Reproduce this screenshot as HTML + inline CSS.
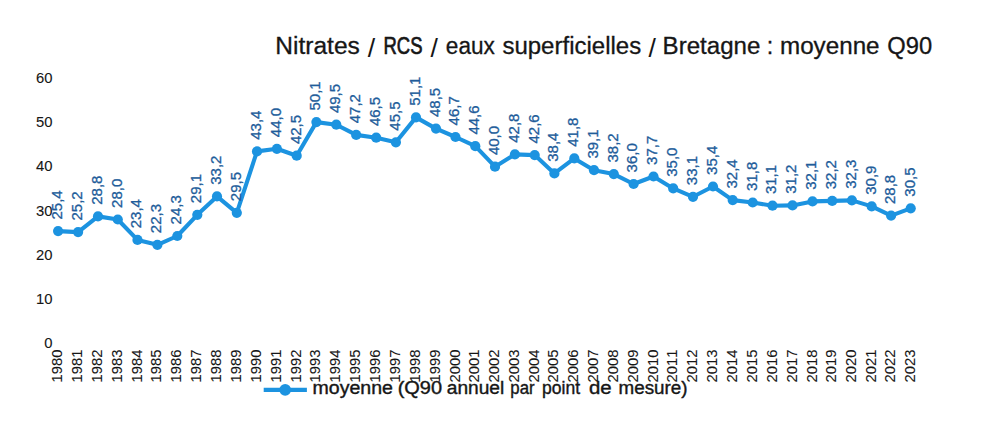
<!DOCTYPE html>
<html><head><meta charset="utf-8"><title>Nitrates / RCS / eaux superficielles / Bretagne</title>
<style>
html,body{margin:0;padding:0;background:#fff;}
body{width:1006px;height:435px;overflow:hidden;}
svg{display:block;font-family:'Liberation Sans', sans-serif;font-kerning:none;}
</style></head><body>
<svg width="1006" height="435" viewBox="0 0 1006 435">
<rect width="1006" height="435" fill="#fff"/>
<text x="275.29" y="53.8" font-size="23.3" textLength="84.60" lengthAdjust="spacingAndGlyphs" fill="#161616" stroke="#161616" stroke-width="0.3">Nitrates</text>
<text x="371.55" y="57.0" font-size="26.6" text-anchor="middle" fill="#161616">/</text>
<text x="383.49" y="53.8" font-size="23.3" textLength="38.96" lengthAdjust="spacingAndGlyphs" fill="#161616" stroke="#161616" stroke-width="0.7">RCS</text>
<text x="434.15" y="57.0" font-size="26.6" text-anchor="middle" fill="#161616">/</text>
<text x="445.84" y="53.8" font-size="23.3" textLength="49.00" lengthAdjust="spacingAndGlyphs" fill="#161616" stroke="#161616" stroke-width="0.3">eaux</text>
<text x="502.43" y="53.8" font-size="23.3" textLength="138.74" lengthAdjust="spacingAndGlyphs" fill="#161616" stroke="#161616" stroke-width="0.3">superficielles</text>
<text x="652.15" y="57.0" font-size="26.6" text-anchor="middle" fill="#161616">/</text>
<text x="662.62" y="53.8" font-size="23.3" textLength="97.75" lengthAdjust="spacingAndGlyphs" fill="#161616" stroke="#161616" stroke-width="0.3">Bretagne</text>
<text x="770.10" y="53.8" font-size="23.3" text-anchor="middle" fill="#161616" stroke="#161616" stroke-width="0.3">:</text>
<text x="779.99" y="53.8" font-size="23.3" textLength="99.58" lengthAdjust="spacingAndGlyphs" fill="#161616" stroke="#161616" stroke-width="0.3">moyenne</text>
<text x="887.38" y="53.8" font-size="23.3" textLength="44.85" lengthAdjust="spacingAndGlyphs" fill="#161616" stroke="#161616" stroke-width="0.3">Q90</text>
<text x="52.5" y="348.1" font-size="14.8" fill="#161616" stroke="#161616" stroke-width="0.1" text-anchor="end">0</text>
<text x="52.5" y="303.9" font-size="14.8" fill="#161616" stroke="#161616" stroke-width="0.1" text-anchor="end">10</text>
<text x="52.5" y="259.7" font-size="14.8" fill="#161616" stroke="#161616" stroke-width="0.1" text-anchor="end">20</text>
<text x="52.5" y="215.5" font-size="14.8" fill="#161616" stroke="#161616" stroke-width="0.1" text-anchor="end">30</text>
<text x="52.5" y="171.4" font-size="14.8" fill="#161616" stroke="#161616" stroke-width="0.1" text-anchor="end">40</text>
<text x="52.5" y="127.2" font-size="14.8" fill="#161616" stroke="#161616" stroke-width="0.1" text-anchor="end">50</text>
<text x="52.5" y="83.0" font-size="14.8" fill="#161616" stroke="#161616" stroke-width="0.1" text-anchor="end">60</text>
<text transform="translate(62.1,349.6) rotate(-90)" font-size="14.8" fill="#161616" stroke="#161616" stroke-width="0.1" text-anchor="end">1980</text>
<text transform="translate(82.1,349.6) rotate(-90)" font-size="14.8" fill="#161616" stroke="#161616" stroke-width="0.1" text-anchor="end">1981</text>
<text transform="translate(102.0,349.6) rotate(-90)" font-size="14.8" fill="#161616" stroke="#161616" stroke-width="0.1" text-anchor="end">1982</text>
<text transform="translate(121.8,349.6) rotate(-90)" font-size="14.8" fill="#161616" stroke="#161616" stroke-width="0.1" text-anchor="end">1983</text>
<text transform="translate(141.5,349.6) rotate(-90)" font-size="14.8" fill="#161616" stroke="#161616" stroke-width="0.1" text-anchor="end">1984</text>
<text transform="translate(161.4,349.6) rotate(-90)" font-size="14.8" fill="#161616" stroke="#161616" stroke-width="0.1" text-anchor="end">1985</text>
<text transform="translate(181.3,349.6) rotate(-90)" font-size="14.8" fill="#161616" stroke="#161616" stroke-width="0.1" text-anchor="end">1986</text>
<text transform="translate(201.3,349.6) rotate(-90)" font-size="14.8" fill="#161616" stroke="#161616" stroke-width="0.1" text-anchor="end">1987</text>
<text transform="translate(221.0,349.6) rotate(-90)" font-size="14.8" fill="#161616" stroke="#161616" stroke-width="0.1" text-anchor="end">1988</text>
<text transform="translate(240.8,349.6) rotate(-90)" font-size="14.8" fill="#161616" stroke="#161616" stroke-width="0.1" text-anchor="end">1989</text>
<text transform="translate(261.0,349.6) rotate(-90)" font-size="14.8" fill="#161616" stroke="#161616" stroke-width="0.1" text-anchor="end">1990</text>
<text transform="translate(280.9,349.6) rotate(-90)" font-size="14.8" fill="#161616" stroke="#161616" stroke-width="0.1" text-anchor="end">1991</text>
<text transform="translate(300.7,349.6) rotate(-90)" font-size="14.8" fill="#161616" stroke="#161616" stroke-width="0.1" text-anchor="end">1992</text>
<text transform="translate(320.4,349.6) rotate(-90)" font-size="14.8" fill="#161616" stroke="#161616" stroke-width="0.1" text-anchor="end">1993</text>
<text transform="translate(340.3,349.6) rotate(-90)" font-size="14.8" fill="#161616" stroke="#161616" stroke-width="0.1" text-anchor="end">1994</text>
<text transform="translate(360.2,349.6) rotate(-90)" font-size="14.8" fill="#161616" stroke="#161616" stroke-width="0.1" text-anchor="end">1995</text>
<text transform="translate(380.2,349.6) rotate(-90)" font-size="14.8" fill="#161616" stroke="#161616" stroke-width="0.1" text-anchor="end">1996</text>
<text transform="translate(399.9,349.6) rotate(-90)" font-size="14.8" fill="#161616" stroke="#161616" stroke-width="0.1" text-anchor="end">1997</text>
<text transform="translate(420.0,349.6) rotate(-90)" font-size="14.8" fill="#161616" stroke="#161616" stroke-width="0.1" text-anchor="end">1998</text>
<text transform="translate(440.0,349.6) rotate(-90)" font-size="14.8" fill="#161616" stroke="#161616" stroke-width="0.1" text-anchor="end">1999</text>
<text transform="translate(459.5,349.6) rotate(-90)" font-size="14.8" fill="#161616" stroke="#161616" stroke-width="0.1" text-anchor="end">2000</text>
<text transform="translate(479.3,349.6) rotate(-90)" font-size="14.8" fill="#161616" stroke="#161616" stroke-width="0.1" text-anchor="end">2001</text>
<text transform="translate(499.0,349.6) rotate(-90)" font-size="14.8" fill="#161616" stroke="#161616" stroke-width="0.1" text-anchor="end">2002</text>
<text transform="translate(518.9,349.6) rotate(-90)" font-size="14.8" fill="#161616" stroke="#161616" stroke-width="0.1" text-anchor="end">2003</text>
<text transform="translate(538.7,349.6) rotate(-90)" font-size="14.8" fill="#161616" stroke="#161616" stroke-width="0.1" text-anchor="end">2004</text>
<text transform="translate(558.4,349.6) rotate(-90)" font-size="14.8" fill="#161616" stroke="#161616" stroke-width="0.1" text-anchor="end">2005</text>
<text transform="translate(578.3,349.6) rotate(-90)" font-size="14.8" fill="#161616" stroke="#161616" stroke-width="0.1" text-anchor="end">2006</text>
<text transform="translate(598.0,349.6) rotate(-90)" font-size="14.8" fill="#161616" stroke="#161616" stroke-width="0.1" text-anchor="end">2007</text>
<text transform="translate(617.8,349.6) rotate(-90)" font-size="14.8" fill="#161616" stroke="#161616" stroke-width="0.1" text-anchor="end">2008</text>
<text transform="translate(637.6,349.6) rotate(-90)" font-size="14.8" fill="#161616" stroke="#161616" stroke-width="0.1" text-anchor="end">2009</text>
<text transform="translate(657.5,349.6) rotate(-90)" font-size="14.8" fill="#161616" stroke="#161616" stroke-width="0.1" text-anchor="end">2010</text>
<text transform="translate(677.2,349.6) rotate(-90)" font-size="14.8" fill="#161616" stroke="#161616" stroke-width="0.1" text-anchor="end">2011</text>
<text transform="translate(697.0,349.6) rotate(-90)" font-size="14.8" fill="#161616" stroke="#161616" stroke-width="0.1" text-anchor="end">2012</text>
<text transform="translate(717.0,349.6) rotate(-90)" font-size="14.8" fill="#161616" stroke="#161616" stroke-width="0.1" text-anchor="end">2013</text>
<text transform="translate(736.7,349.6) rotate(-90)" font-size="14.8" fill="#161616" stroke="#161616" stroke-width="0.1" text-anchor="end">2014</text>
<text transform="translate(756.7,349.6) rotate(-90)" font-size="14.8" fill="#161616" stroke="#161616" stroke-width="0.1" text-anchor="end">2015</text>
<text transform="translate(776.5,349.6) rotate(-90)" font-size="14.8" fill="#161616" stroke="#161616" stroke-width="0.1" text-anchor="end">2016</text>
<text transform="translate(796.5,349.6) rotate(-90)" font-size="14.8" fill="#161616" stroke="#161616" stroke-width="0.1" text-anchor="end">2017</text>
<text transform="translate(816.5,349.6) rotate(-90)" font-size="14.8" fill="#161616" stroke="#161616" stroke-width="0.1" text-anchor="end">2018</text>
<text transform="translate(836.2,349.6) rotate(-90)" font-size="14.8" fill="#161616" stroke="#161616" stroke-width="0.1" text-anchor="end">2019</text>
<text transform="translate(855.9,349.6) rotate(-90)" font-size="14.8" fill="#161616" stroke="#161616" stroke-width="0.1" text-anchor="end">2020</text>
<text transform="translate(875.7,349.6) rotate(-90)" font-size="14.8" fill="#161616" stroke="#161616" stroke-width="0.1" text-anchor="end">2021</text>
<text transform="translate(895.1,349.6) rotate(-90)" font-size="14.8" fill="#161616" stroke="#161616" stroke-width="0.1" text-anchor="end">2022</text>
<text transform="translate(914.7,349.6) rotate(-90)" font-size="14.8" fill="#161616" stroke="#161616" stroke-width="0.1" text-anchor="end">2023</text>
<polyline points="58.1,231.1 78.1,232.1 98.0,216.4 117.8,219.5 137.5,239.9 157.4,244.8 177.3,236.0 197.3,214.8 217.0,196.4 236.8,212.8 257.0,151.4 276.9,148.8 296.7,155.7 316.4,122.1 336.3,124.7 356.2,134.9 376.2,137.7 395.9,142.3 416.0,117.4 436.0,128.6 455.5,137.0 475.3,146.2 495.0,166.7 514.9,154.4 534.7,155.1 554.4,173.4 574.3,158.4 594.0,170.2 613.8,174.1 633.6,184.0 653.5,176.5 673.2,188.4 693.0,196.8 713.0,186.5 732.7,200.1 752.7,202.5 772.5,205.7 792.5,205.4 812.5,201.4 832.2,200.9 851.9,200.4 871.7,206.4 891.1,215.6 910.7,208.3" fill="none" stroke="#1c93e0" stroke-width="4.1" stroke-linejoin="round" stroke-linecap="round"/>
<circle cx="58.1" cy="231.1" r="5.1" fill="#1c93e0"/>
<circle cx="78.1" cy="232.1" r="5.1" fill="#1c93e0"/>
<circle cx="98.0" cy="216.4" r="5.1" fill="#1c93e0"/>
<circle cx="117.8" cy="219.5" r="5.1" fill="#1c93e0"/>
<circle cx="137.5" cy="239.9" r="5.1" fill="#1c93e0"/>
<circle cx="157.4" cy="244.8" r="5.1" fill="#1c93e0"/>
<circle cx="177.3" cy="236.0" r="5.1" fill="#1c93e0"/>
<circle cx="197.3" cy="214.8" r="5.1" fill="#1c93e0"/>
<circle cx="217.0" cy="196.4" r="5.1" fill="#1c93e0"/>
<circle cx="236.8" cy="212.8" r="5.1" fill="#1c93e0"/>
<circle cx="257.0" cy="151.4" r="5.1" fill="#1c93e0"/>
<circle cx="276.9" cy="148.8" r="5.1" fill="#1c93e0"/>
<circle cx="296.7" cy="155.7" r="5.1" fill="#1c93e0"/>
<circle cx="316.4" cy="122.1" r="5.1" fill="#1c93e0"/>
<circle cx="336.3" cy="124.7" r="5.1" fill="#1c93e0"/>
<circle cx="356.2" cy="134.9" r="5.1" fill="#1c93e0"/>
<circle cx="376.2" cy="137.7" r="5.1" fill="#1c93e0"/>
<circle cx="395.9" cy="142.3" r="5.1" fill="#1c93e0"/>
<circle cx="416.0" cy="117.4" r="5.1" fill="#1c93e0"/>
<circle cx="436.0" cy="128.6" r="5.1" fill="#1c93e0"/>
<circle cx="455.5" cy="137.0" r="5.1" fill="#1c93e0"/>
<circle cx="475.3" cy="146.2" r="5.1" fill="#1c93e0"/>
<circle cx="495.0" cy="166.7" r="5.1" fill="#1c93e0"/>
<circle cx="514.9" cy="154.4" r="5.1" fill="#1c93e0"/>
<circle cx="534.7" cy="155.1" r="5.1" fill="#1c93e0"/>
<circle cx="554.4" cy="173.4" r="5.1" fill="#1c93e0"/>
<circle cx="574.3" cy="158.4" r="5.1" fill="#1c93e0"/>
<circle cx="594.0" cy="170.2" r="5.1" fill="#1c93e0"/>
<circle cx="613.8" cy="174.1" r="5.1" fill="#1c93e0"/>
<circle cx="633.6" cy="184.0" r="5.1" fill="#1c93e0"/>
<circle cx="653.5" cy="176.5" r="5.1" fill="#1c93e0"/>
<circle cx="673.2" cy="188.4" r="5.1" fill="#1c93e0"/>
<circle cx="693.0" cy="196.8" r="5.1" fill="#1c93e0"/>
<circle cx="713.0" cy="186.5" r="5.1" fill="#1c93e0"/>
<circle cx="732.7" cy="200.1" r="5.1" fill="#1c93e0"/>
<circle cx="752.7" cy="202.5" r="5.1" fill="#1c93e0"/>
<circle cx="772.5" cy="205.7" r="5.1" fill="#1c93e0"/>
<circle cx="792.5" cy="205.4" r="5.1" fill="#1c93e0"/>
<circle cx="812.5" cy="201.4" r="5.1" fill="#1c93e0"/>
<circle cx="832.2" cy="200.9" r="5.1" fill="#1c93e0"/>
<circle cx="851.9" cy="200.4" r="5.1" fill="#1c93e0"/>
<circle cx="871.7" cy="206.4" r="5.1" fill="#1c93e0"/>
<circle cx="891.1" cy="215.6" r="5.1" fill="#1c93e0"/>
<circle cx="910.7" cy="208.3" r="5.1" fill="#1c93e0"/>
<text transform="translate(61.9,219.5) rotate(-90)" font-size="15" fill="#215c9a" stroke="#215c9a" stroke-width="0.3">25,4</text>
<text transform="translate(81.9,220.5) rotate(-90)" font-size="15" fill="#215c9a" stroke="#215c9a" stroke-width="0.3">25,2</text>
<text transform="translate(101.8,204.8) rotate(-90)" font-size="15" fill="#215c9a" stroke="#215c9a" stroke-width="0.3">28,8</text>
<text transform="translate(121.6,207.9) rotate(-90)" font-size="15" fill="#215c9a" stroke="#215c9a" stroke-width="0.3">28,0</text>
<text transform="translate(141.3,228.3) rotate(-90)" font-size="15" fill="#215c9a" stroke="#215c9a" stroke-width="0.3">23,4</text>
<text transform="translate(161.2,233.2) rotate(-90)" font-size="15" fill="#215c9a" stroke="#215c9a" stroke-width="0.3">22,3</text>
<text transform="translate(181.1,224.4) rotate(-90)" font-size="15" fill="#215c9a" stroke="#215c9a" stroke-width="0.3">24,3</text>
<text transform="translate(201.1,203.2) rotate(-90)" font-size="15" fill="#215c9a" stroke="#215c9a" stroke-width="0.3">29,1</text>
<text transform="translate(220.8,184.8) rotate(-90)" font-size="15" fill="#215c9a" stroke="#215c9a" stroke-width="0.3">33,2</text>
<text transform="translate(240.6,201.2) rotate(-90)" font-size="15" fill="#215c9a" stroke="#215c9a" stroke-width="0.3">29,5</text>
<text transform="translate(260.8,139.8) rotate(-90)" font-size="15" fill="#215c9a" stroke="#215c9a" stroke-width="0.3">43,4</text>
<text transform="translate(280.7,137.2) rotate(-90)" font-size="15" fill="#215c9a" stroke="#215c9a" stroke-width="0.3">44,0</text>
<text transform="translate(300.5,144.1) rotate(-90)" font-size="15" fill="#215c9a" stroke="#215c9a" stroke-width="0.3">42,5</text>
<text transform="translate(320.2,110.5) rotate(-90)" font-size="15" fill="#215c9a" stroke="#215c9a" stroke-width="0.3">50,1</text>
<text transform="translate(340.1,113.1) rotate(-90)" font-size="15" fill="#215c9a" stroke="#215c9a" stroke-width="0.3">49,5</text>
<text transform="translate(360.0,123.3) rotate(-90)" font-size="15" fill="#215c9a" stroke="#215c9a" stroke-width="0.3">47,2</text>
<text transform="translate(380.0,126.1) rotate(-90)" font-size="15" fill="#215c9a" stroke="#215c9a" stroke-width="0.3">46,5</text>
<text transform="translate(399.7,130.7) rotate(-90)" font-size="15" fill="#215c9a" stroke="#215c9a" stroke-width="0.3">45,5</text>
<text transform="translate(419.8,105.8) rotate(-90)" font-size="15" fill="#215c9a" stroke="#215c9a" stroke-width="0.3">51,1</text>
<text transform="translate(439.8,117.0) rotate(-90)" font-size="15" fill="#215c9a" stroke="#215c9a" stroke-width="0.3">48,5</text>
<text transform="translate(459.3,125.4) rotate(-90)" font-size="15" fill="#215c9a" stroke="#215c9a" stroke-width="0.3">46,7</text>
<text transform="translate(479.1,134.6) rotate(-90)" font-size="15" fill="#215c9a" stroke="#215c9a" stroke-width="0.3">44,6</text>
<text transform="translate(498.8,155.1) rotate(-90)" font-size="15" fill="#215c9a" stroke="#215c9a" stroke-width="0.3">40,0</text>
<text transform="translate(518.7,142.8) rotate(-90)" font-size="15" fill="#215c9a" stroke="#215c9a" stroke-width="0.3">42,8</text>
<text transform="translate(538.5,143.5) rotate(-90)" font-size="15" fill="#215c9a" stroke="#215c9a" stroke-width="0.3">42,6</text>
<text transform="translate(558.2,161.8) rotate(-90)" font-size="15" fill="#215c9a" stroke="#215c9a" stroke-width="0.3">38,4</text>
<text transform="translate(578.1,146.8) rotate(-90)" font-size="15" fill="#215c9a" stroke="#215c9a" stroke-width="0.3">41,8</text>
<text transform="translate(597.8,158.6) rotate(-90)" font-size="15" fill="#215c9a" stroke="#215c9a" stroke-width="0.3">39,1</text>
<text transform="translate(617.6,162.5) rotate(-90)" font-size="15" fill="#215c9a" stroke="#215c9a" stroke-width="0.3">38,2</text>
<text transform="translate(637.4,172.4) rotate(-90)" font-size="15" fill="#215c9a" stroke="#215c9a" stroke-width="0.3">36,0</text>
<text transform="translate(657.3,164.9) rotate(-90)" font-size="15" fill="#215c9a" stroke="#215c9a" stroke-width="0.3">37,7</text>
<text transform="translate(677.0,176.8) rotate(-90)" font-size="15" fill="#215c9a" stroke="#215c9a" stroke-width="0.3">35,0</text>
<text transform="translate(696.8,185.2) rotate(-90)" font-size="15" fill="#215c9a" stroke="#215c9a" stroke-width="0.3">33,1</text>
<text transform="translate(716.8,174.9) rotate(-90)" font-size="15" fill="#215c9a" stroke="#215c9a" stroke-width="0.3">35,4</text>
<text transform="translate(736.5,188.5) rotate(-90)" font-size="15" fill="#215c9a" stroke="#215c9a" stroke-width="0.3">32,4</text>
<text transform="translate(756.5,190.9) rotate(-90)" font-size="15" fill="#215c9a" stroke="#215c9a" stroke-width="0.3">31,8</text>
<text transform="translate(776.3,194.1) rotate(-90)" font-size="15" fill="#215c9a" stroke="#215c9a" stroke-width="0.3">31,1</text>
<text transform="translate(796.3,193.8) rotate(-90)" font-size="15" fill="#215c9a" stroke="#215c9a" stroke-width="0.3">31,2</text>
<text transform="translate(816.3,189.8) rotate(-90)" font-size="15" fill="#215c9a" stroke="#215c9a" stroke-width="0.3">32,1</text>
<text transform="translate(836.0,189.3) rotate(-90)" font-size="15" fill="#215c9a" stroke="#215c9a" stroke-width="0.3">32,2</text>
<text transform="translate(855.7,188.8) rotate(-90)" font-size="15" fill="#215c9a" stroke="#215c9a" stroke-width="0.3">32,3</text>
<text transform="translate(875.5,194.8) rotate(-90)" font-size="15" fill="#215c9a" stroke="#215c9a" stroke-width="0.3">30,9</text>
<text transform="translate(894.9,204.0) rotate(-90)" font-size="15" fill="#215c9a" stroke="#215c9a" stroke-width="0.3">28,8</text>
<text transform="translate(914.5,196.7) rotate(-90)" font-size="15" fill="#215c9a" stroke="#215c9a" stroke-width="0.3">30,5</text>
<line x1="263.7" y1="389.8" x2="306.9" y2="389.8" stroke="#1c93e0" stroke-width="4.2"/>
<circle cx="285.2" cy="389.8" r="5.9" fill="#1c93e0"/>
<text x="312.50" y="393.8" font-size="18.8" textLength="80.37" lengthAdjust="spacingAndGlyphs" fill="#161616" stroke="#161616" stroke-width="0.4">moyenne</text>
<text x="397.66" y="393.8" font-size="18.8" textLength="44.42" lengthAdjust="spacingAndGlyphs" fill="#161616" stroke="#161616" stroke-width="0.4">(Q90</text>
<text x="446.79" y="393.8" font-size="18.8" textLength="57.49" lengthAdjust="spacingAndGlyphs" fill="#161616" stroke="#161616" stroke-width="0.4">annuel</text>
<text x="510.32" y="393.8" font-size="18.8" textLength="24.26" lengthAdjust="spacingAndGlyphs" fill="#161616" stroke="#161616" stroke-width="0.4">par</text>
<text x="542.07" y="393.8" font-size="18.8" textLength="38.06" lengthAdjust="spacingAndGlyphs" fill="#161616" stroke="#161616" stroke-width="0.4">point</text>
<text x="589.04" y="393.8" font-size="18.8" textLength="22.66" lengthAdjust="spacingAndGlyphs" fill="#161616" stroke="#161616" stroke-width="0.4">de</text>
<text x="618.55" y="393.8" font-size="18.8" textLength="69.02" lengthAdjust="spacingAndGlyphs" fill="#161616" stroke="#161616" stroke-width="0.4">mesure)</text>
</svg>
</body></html>
